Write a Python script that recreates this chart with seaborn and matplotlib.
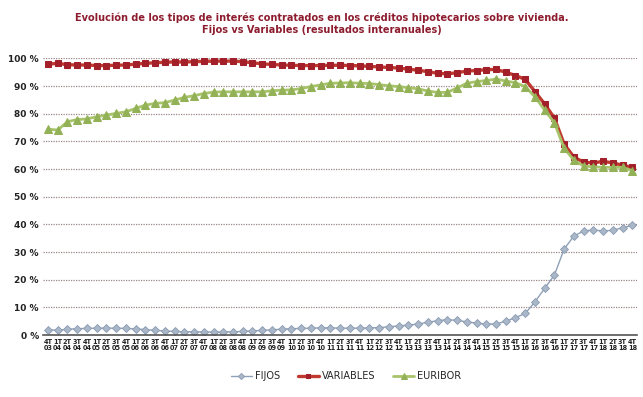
import matplotlib
matplotlib.use('Agg')
import matplotlib.pyplot as plt
import numpy as np
import pandas as pd
import seaborn as sns

# trimestres 4T 03 .. 4T 18
trimestres = ['4T\n03'] + [f'{q}T\n{a:02d}' for a in range(4, 19) for q in range(1, 5)]

fijos = [2.0, 1.7, 2.1, 2.3, 2.4, 2.5, 2.5, 2.5, 2.4, 2.2,
         2.0, 1.7, 1.5, 1.3, 1.2, 1.2, 1.1, 1.1, 1.1, 1.2,
         1.3, 1.5, 1.7, 1.9, 2.1, 2.3, 2.4, 2.5, 2.6, 2.6,
         2.5, 2.5, 2.5, 2.6, 2.7, 3.0, 3.3, 3.6, 4.0, 4.6,
         5.2, 5.6, 5.3, 4.8, 4.3, 4.0, 4.0, 5.0, 6.3, 7.8,
         12.0, 16.9, 21.7, 31.1, 35.8, 37.6, 38.0, 37.6, 37.9, 38.8,
         39.6]

variables = [97.9, 98.2, 97.7, 97.6, 97.6, 97.4, 97.4, 97.5, 97.6, 97.9,
             98.2, 98.4, 98.6, 98.7, 98.7, 98.8, 98.9, 99.0, 99.0, 99.0,
             98.8, 98.4, 98.0, 97.8, 97.6, 97.5, 97.4, 97.4, 97.4, 97.5,
             97.5, 97.4, 97.3, 97.1, 96.9, 96.7, 96.5, 96.1, 95.7, 95.2,
             94.6, 94.4, 94.8, 95.4, 95.6, 95.9, 96.0, 95.0, 93.8, 92.4,
             88.0, 83.5, 78.4, 69.0, 64.3, 62.5, 62.2, 62.8, 62.2, 61.4,
             60.6]

euribor = [74.4, 74.1, 77.1, 77.9, 78.1, 78.9, 79.5, 80.1, 80.7, 81.9,
           83.1, 83.7, 84.0, 84.9, 85.9, 86.5, 87.3, 87.8, 87.9, 87.9,
           87.9, 87.9, 87.9, 88.3, 88.5, 88.6, 89.1, 89.8, 90.4, 91.0,
           91.1, 91.2, 91.0, 90.9, 90.5, 90.1, 89.8, 89.4, 89.0, 88.2,
           87.7, 87.7, 89.3, 91.0, 91.6, 92.0, 92.5, 91.8, 91.2, 89.8,
           86.1, 81.3, 76.7, 67.5, 63.2, 61.1, 60.8, 60.6, 60.6, 60.6,
           59.4]

df = pd.DataFrame({'pos': np.arange(len(trimestres)), 'FIJOS': fijos,
                   'VARIABLES': variables, 'EURIBOR': euribor})

sns.set_style('white')
plt.rcParams['font.family'] = ['DejaVu Sans']

fig = plt.figure(figsize=(6.43, 3.97), dpi=100)
ax = fig.add_axes([0.067, 0.156, 0.924, 0.697])

for y in range(10, 101, 10):
    ax.axhline(y, color='#9c8686', lw=0.9, ls=(0, (1, 1)), zorder=0)

sns.lineplot(data=df, x='pos', y='FIJOS', ax=ax, color='#8fa1b8', lw=1.0,
             marker='D', markersize=4.5, mfc='#a9b7c9', mec='#8a9ab0', mew=0.6,
             label='FIJOS')
sns.lineplot(data=df, x='pos', y='VARIABLES', ax=ax, color='#c0392f', lw=2.4,
             marker='s', markersize=5, mfc='#a3202b', mec='#a3202b',
             label='VARIABLES')
sns.lineplot(data=df, x='pos', y='EURIBOR', ax=ax, color='#a8c46a', lw=2.0,
             marker='^', markersize=5.5, mfc='#93b156', mec='#93b156',
             label='EURIBOR')

ax.set_xlim(-0.5, len(trimestres) - 0.5)
ax.set_ylim(0, 100)
ax.set_yticks(range(0, 101, 10))
ax.set_yticklabels([f'{v} %' for v in range(0, 101, 10)], fontsize=6.5,
                   fontweight='bold', color='#222222')
ax.set_xticks(df['pos'])
ax.set_xticklabels(trimestres, fontsize=4.7, fontweight='bold', linespacing=1.0,
                   color='#222222')
ax.tick_params(axis='both', length=0, pad=3)
ax.set_xlabel('')
ax.set_ylabel('')
for s in ['top', 'right', 'left']:
    ax.spines[s].set_visible(False)
ax.spines['bottom'].set_color('#555555')
ax.spines['bottom'].set_linewidth(1.2)

ax.legend_.remove()
handles, labels = ax.get_legend_handles_labels()
fig.legend(handles, labels, loc='center', bbox_to_anchor=(0.538, 0.053),
           ncol=3, frameon=False, fontsize=7, handlelength=2.2,
           columnspacing=1.8, handletextpad=0.3, markerscale=0.7)

fig.text(0.5, 0.94, 'Evolución de los tipos de interés contratados en los créditos hipotecarios sobre vivienda.\nFijos vs Variables (resultados interanuales)',
         ha='center', va='center', fontsize=7, fontweight='bold',
         color='#8c1c2e', linespacing=1.15)

fig.savefig('out.png', dpi=100)
